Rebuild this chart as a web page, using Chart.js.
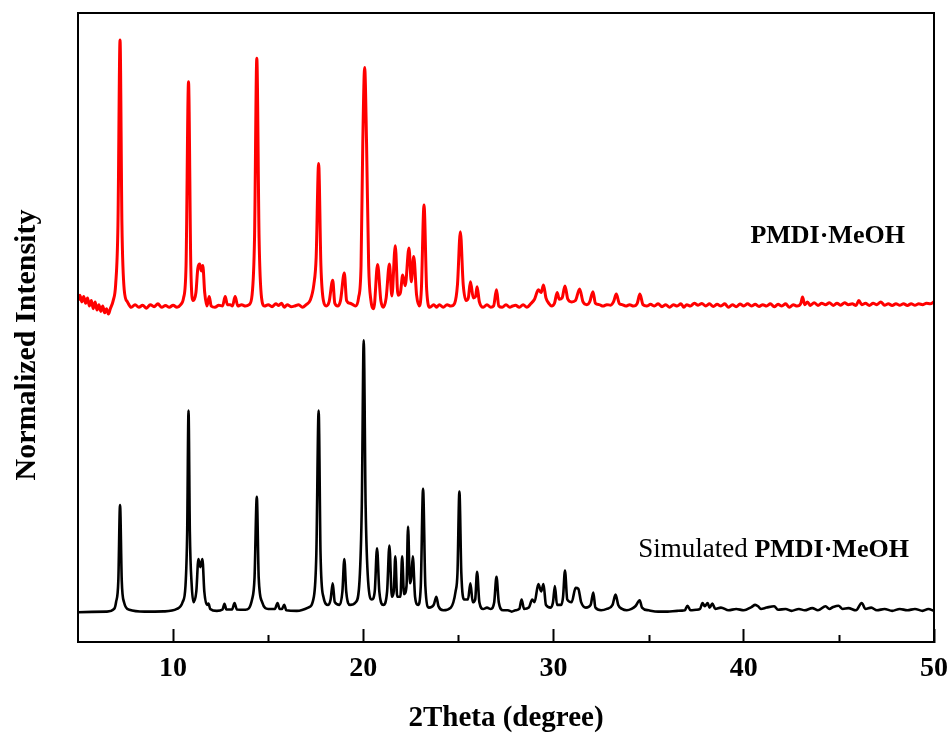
<!DOCTYPE html>
<html>
<head>
<meta charset="utf-8">
<script src="https://cdn.jsdelivr.net/npm/chart.js@4.4.1/dist/chart.umd.min.js"></script>
<style>
  html, body { margin: 0; padding: 0; background: #fff; }
  #wrap { width: 952px; height: 740px; }
</style>
</head>
<body>
<div id="wrap"><canvas id="c" width="952" height="740"></canvas></div>
<script>
// ---- data ----
const xTicks = [10, 20, 30, 40, 50];
const xMinorTicks = [15, 25, 35, 45];
const xLabel = '2Theta (degree)';
const yLabel = 'Normalized Intensity';
const expName = 'PMDI·MeOH';
const simPrefix = 'Simulated ';
const simName = 'PMDI·MeOH';
const expOffset = 113.7;

// Experimental pattern (2θ, intensity above its own baseline)
const expPattern = [
 [5.0,2],[5.1,4],[5.2,1.5],[5.3,3.5],[5.4,1],[5.5,3],[5.6,0],[5.7,2],[5.8,-1],[5.9,1.5],[6.0,-1.5],[6.1,0.5],[6.2,-2],[6.3,0],[6.4,-2.5],[6.5,-1],[6.6,-3],[6.7,-1],[6.85,2],[6.98,8],[7.1,30],[7.21,98.5],[7.31,30],[7.43,6],[7.6,1.5],[7.8,-0.5],[8.0,0.5],[8.2,-0.5],[8.4,0.3],[8.6,-0.8],[8.8,0.5],[9.0,-0.3],[9.2,0.8],[9.4,-0.5],[9.6,0.2],[9.8,-0.5],[10.0,0.3],[10.2,-0.5],[10.4,0.5],[10.55,3],[10.68,15],[10.81,83],[10.93,15],[11.05,2],[11.2,5],[11.3,14],[11.4,15.5],[11.48,13],[11.56,15],[11.66,5],[11.78,0],[11.9,3.5],[12.0,0],[12.2,-0.5],[12.4,0.3],[12.6,0],[12.74,3.5],[12.85,0.5],[13.0,0.5],[13.12,0],[13.26,3.5],[13.4,0],[13.6,0.5],[13.8,0],[14.0,0.5],[14.15,4],[14.28,25],[14.4,91.7],[14.52,25],[14.65,3],[14.8,0],[15.0,0.5],[15.2,-0.3],[15.4,0.8],[15.55,0.2],[15.7,1],[15.85,-0.5],[16.0,0.5],[16.2,-0.3],[16.4,0],[16.6,0.5],[16.8,-0.5],[17.0,0.5],[17.2,2],[17.4,8],[17.52,18],[17.65,52.8],[17.77,15],[17.9,2],[18.05,0],[18.2,1.5],[18.39,9.5],[18.5,1],[18.65,0],[18.8,2],[19.0,12.2],[19.12,2],[19.3,1],[19.45,0.5],[19.6,0],[19.75,3],[19.88,15],[19.97,60],[20.07,88.3],[20.17,60],[20.28,15],[20.4,2],[20.55,-1],[20.75,15.4],[20.92,2],[21.05,-0.5],[21.2,3],[21.37,15.5],[21.5,3.7],[21.68,22.3],[21.82,4],[21.95,5],[22.07,11.5],[22.2,7.5],[22.4,21.5],[22.52,9],[22.65,18.3],[22.8,4],[22.95,0],[23.05,6],[23.19,37.4],[23.33,6],[23.5,-0.5],[23.7,0.5],[23.85,-0.5],[24.0,0.5],[24.2,-0.5],[24.4,0.5],[24.6,0],[24.8,1],[24.95,8],[25.1,27.5],[25.25,8],[25.4,2],[25.52,3],[25.63,9],[25.78,3],[25.9,3.5],[25.98,7.1],[26.1,1.5],[26.3,-0.5],[26.5,0.5],[26.7,-0.5],[26.85,0],[27.0,6],[27.12,0],[27.3,-0.5],[27.5,0.5],[27.7,-0.5],[27.85,0],[28.0,0.3],[28.2,-0.5],[28.4,0.5],[28.6,-0.5],[28.8,0.8],[29.0,2.5],[29.2,6],[29.35,5],[29.47,7.8],[29.6,3],[29.75,1],[29.9,0],[30.05,1],[30.19,5],[30.3,2.5],[30.45,3],[30.6,7.4],[30.75,2.5],[30.95,1.5],[31.15,2],[31.37,6.3],[31.55,1.5],[31.75,0.5],[31.9,1.5],[32.07,5.3],[32.2,1],[32.4,0.5],[32.6,0],[32.8,0.5],[33.0,0.3],[33.15,1.5],[33.3,4.4],[33.45,1],[33.6,0.5],[33.8,0],[34.0,0.5],[34.2,0],[34.4,1],[34.54,4.4],[34.7,0.5],[34.9,0],[35.1,0.6],[35.3,0],[35.5,0.8],[35.7,-0.3],[35.9,0.5],[36.1,-0.5],[36.3,0.5],[36.5,0],[36.7,0.8],[36.85,-0.5],[37.0,0.5],[37.2,0],[37.4,1],[37.6,0.3],[37.8,0.9],[38.0,0],[38.2,0.8],[38.4,-0.2],[38.6,0.6],[38.8,0],[39.0,0.8],[39.2,-0.5],[39.4,0.5],[39.6,-0.3],[39.8,0.7],[40.0,0],[40.2,0.8],[40.4,0],[40.6,0.6],[40.8,-0.2],[41.0,0.5],[41.2,0],[41.4,0.8],[41.6,-0.3],[41.8,0.6],[42.0,0],[42.2,0.8],[42.4,-0.5],[42.6,0.5],[42.8,0],[43.0,1],[43.09,3.3],[43.2,0.5],[43.35,1.5],[43.5,0.2],[43.7,1.2],[43.9,0.2],[44.1,1],[44.3,0.5],[44.5,1.2],[44.7,0.2],[44.9,1],[45.1,0.3],[45.3,1.2],[45.5,0.5],[45.7,0.8],[45.9,0.2],[46.05,2],[46.2,0.5],[46.4,1],[46.6,0.2],[46.8,1],[47.0,0.5],[47.2,1.5],[47.4,0.3],[47.6,0.8],[47.8,0.2],[48.0,0.8],[48.2,0.3],[48.4,0.8],[48.6,0.2],[48.8,0.8],[49.0,0.3],[49.2,0.8],[49.4,0.5],[49.6,1],[49.8,0.8],[50.0,1.5]
];

// Simulated pattern (2θ, intensity)
const simPattern = [
 [5.0,0.3],[6.5,0.5],[6.9,1.5],[7.0,4],[7.12,12],[7.21,40],[7.30,12],[7.42,4],[7.7,1.2],[8.5,0.5],[9.5,0.6],[10.2,1.5],[10.5,4],[10.65,10],[10.74,30],[10.81,75],[10.88,30],[10.98,10],[11.07,4],[11.22,8],[11.33,20],[11.43,17],[11.54,20],[11.64,8],[11.78,3],[11.86,3.5],[11.95,1.5],[12.3,0.8],[12.6,1.3],[12.7,3.4],[12.8,1.3],[13.1,1.3],[13.23,3.7],[13.35,1.3],[13.8,1.2],[14.15,5],[14.28,13],[14.4,43],[14.5,13],[14.68,4],[15.0,1.5],[15.35,1.5],[15.49,3.7],[15.6,1.5],[15.72,1.5],[15.84,3],[15.95,1],[16.5,0.8],[17.1,2],[17.4,6],[17.53,22],[17.65,75],[17.75,22],[17.9,6],[18.15,3],[18.28,5],[18.39,11],[18.5,4],[18.75,3],[18.9,8],[19.0,20],[19.1,8],[19.3,3],[19.6,4],[19.8,12],[19.92,40],[20.02,101],[20.12,40],[20.25,12],[20.45,5],[20.6,8],[20.72,24],[20.84,8],[21.05,3],[21.25,8],[21.37,25],[21.5,6],[21.6,8],[21.68,21],[21.78,6],[21.95,6],[22.04,21],[22.14,7],[22.27,10],[22.35,32],[22.45,11],[22.52,13],[22.6,21],[22.72,6],[22.88,3],[23.02,10],[23.14,46],[23.26,10],[23.45,2],[23.7,3],[23.84,6],[23.95,2.5],[24.2,1],[24.6,2],[24.85,8],[24.95,15],[25.05,45],[25.15,15],[25.3,5],[25.5,5],[25.63,11],[25.75,4],[25.88,5],[25.98,15.3],[26.1,4],[26.3,1.5],[26.5,2],[26.7,1.5],[26.88,4],[27.0,13.4],[27.12,4],[27.35,1],[27.6,1],[27.8,0.5],[28.0,1],[28.2,1.5],[28.32,5],[28.45,1.5],[28.7,2],[28.88,5],[29.0,4],[29.2,10.7],[29.35,8],[29.47,10.7],[29.6,3],[29.85,2],[29.97,4],[30.07,10],[30.18,3],[30.4,3],[30.5,6],[30.6,15.7],[30.72,5],[30.95,4],[31.16,9.3],[31.3,9],[31.45,4],[31.7,2],[31.95,3],[32.09,7.6],[32.2,2],[32.5,1],[32.8,1.5],[33.1,3],[33.26,6.8],[33.4,3],[33.6,1.5],[33.85,1],[34.1,1.5],[34.3,2.5],[34.53,4.7],[34.65,2],[35.0,1],[35.5,0.5],[36.0,0.5],[36.5,0.8],[36.9,1],[37.04,2.7],[37.2,1],[37.5,1.2],[37.7,1.5],[37.83,3.7],[37.95,2.5],[38.1,3.7],[38.2,2],[38.35,3.5],[38.5,1.5],[38.8,2],[39.2,1],[39.6,1.5],[40.0,1],[40.4,2.2],[40.6,3],[40.75,2.5],[40.9,1.5],[41.2,2],[41.6,2.5],[41.8,1.2],[42.2,1.5],[42.5,0.8],[42.9,1.5],[43.2,1],[43.6,1.8],[43.9,1],[44.3,2.5],[44.5,1.5],[44.7,2.2],[44.98,2.7],[45.2,1.5],[45.5,1.8],[45.9,1],[46.2,3.7],[46.4,1.5],[46.7,2],[47.0,1],[47.4,1.5],[47.8,0.8],[48.2,1.5],[48.6,1],[49.0,1.5],[49.4,0.8],[49.7,1.5],[50.0,0.8]
];

// ---- chart ----
const serif = "'Liberation Serif', 'Times New Roman', serif";

const decorPlugin = {
  id: 'decor',
  afterDraw(chart) {
    const {ctx, chartArea: a, scales: {x, y}} = chart;
    ctx.save();
    ctx.strokeStyle = '#000';
    ctx.lineWidth = 2;
    ctx.strokeRect(a.left, a.top, a.right - a.left, a.bottom - a.top);
    ctx.beginPath();
    xMinorTicks.forEach(v => {
      const px = Math.round(x.getPixelForValue(v)) + 0.5;
      ctx.moveTo(px, a.bottom);
      ctx.lineTo(px, a.bottom - 7);
    });
    ctx.lineWidth = 2;
    ctx.stroke();
    ctx.fillStyle = '#000';
    ctx.font = 'bold 30px ' + serif;
    ctx.textAlign = 'center';
    ctx.textBaseline = 'alphabetic';
    ctx.translate(35, 345);
    ctx.rotate(-Math.PI / 2);
    ctx.fillText(yLabel, 0, 0);
    ctx.restore();

    ctx.save();
    ctx.fillStyle = '#000';
    ctx.textBaseline = 'alphabetic';
    ctx.textAlign = 'right';
    ctx.font = 'bold 26px ' + serif;
    ctx.fillText(expName, x.getPixelForValue(48.47), y.getPixelForValue(137));
    const rx = x.getPixelForValue(48.68), by = y.getPixelForValue(20.7);
    ctx.font = 'bold 26px ' + serif;
    const bw = ctx.measureText(simName).width;
    ctx.fillText(simName, rx, by);
    ctx.font = '27px ' + serif;
    ctx.fillText(simPrefix, rx - bw, by);
    ctx.restore();
  }
};

new Chart(document.getElementById('c'), {
  type: 'line',
  data: {
    datasets: [
      {
        label: 'Simulated',
        data: simPattern.map(([t, v]) => ({x: t, y: v})),
        borderColor: '#000000',
        borderWidth: 2.6,
        pointRadius: 0,
        cubicInterpolationMode: 'monotone',
        fill: false
      },
      {
        label: 'Experimental',
        data: expPattern.map(([t, v]) => ({x: t, y: v + expOffset})),
        borderColor: '#ff0000',
        borderWidth: 3,
        pointRadius: 0,
        cubicInterpolationMode: 'monotone',
        fill: false
      }
    ]
  },
  options: {
    responsive: false,
    animation: false,
    devicePixelRatio: 1,
    layout: { padding: { left: 0, right: 18, top: 13, bottom: 0 } },
    plugins: { legend: { display: false }, tooltip: { enabled: false } },
    scales: {
      x: {
        type: 'linear',
        min: 5, max: 50,
        afterBuildTicks: s => { s.ticks = xTicks.map(v => ({value: v})); },
        afterFit: s => { s.height = 98; s.paddingLeft = 0; s.paddingRight = 0; },
        ticks: {
          color: '#000',
          padding: 23,
          maxRotation: 0,
          autoSkip: false,
          font: { family: serif, size: 28, weight: 'bold' }
        },
        grid: {
          display: true,
          drawOnChartArea: false,
          drawTicks: true,
          tickLength: -13,
          tickWidth: 2,
          tickColor: '#000'
        },
        border: { display: true, color: '#000', width: 2 },
        title: {
          display: true,
          text: xLabel,
          color: '#000',
          font: { family: serif, size: 29, weight: 'bold' },
          padding: { top: 0, bottom: 4 }
        }
      },
      y: {
        type: 'linear',
        min: -10.74, max: 222.2,
        afterFit: s => { s.width = 78; s.paddingTop = 0; s.paddingBottom = 0; },
        ticks: { display: false },
        grid: { display: false, drawTicks: false },
        border: { display: true, color: '#000', width: 2 },
        title: { display: false }
      }
    }
  },
  plugins: [decorPlugin]
});
</script>
</body>
</html>
